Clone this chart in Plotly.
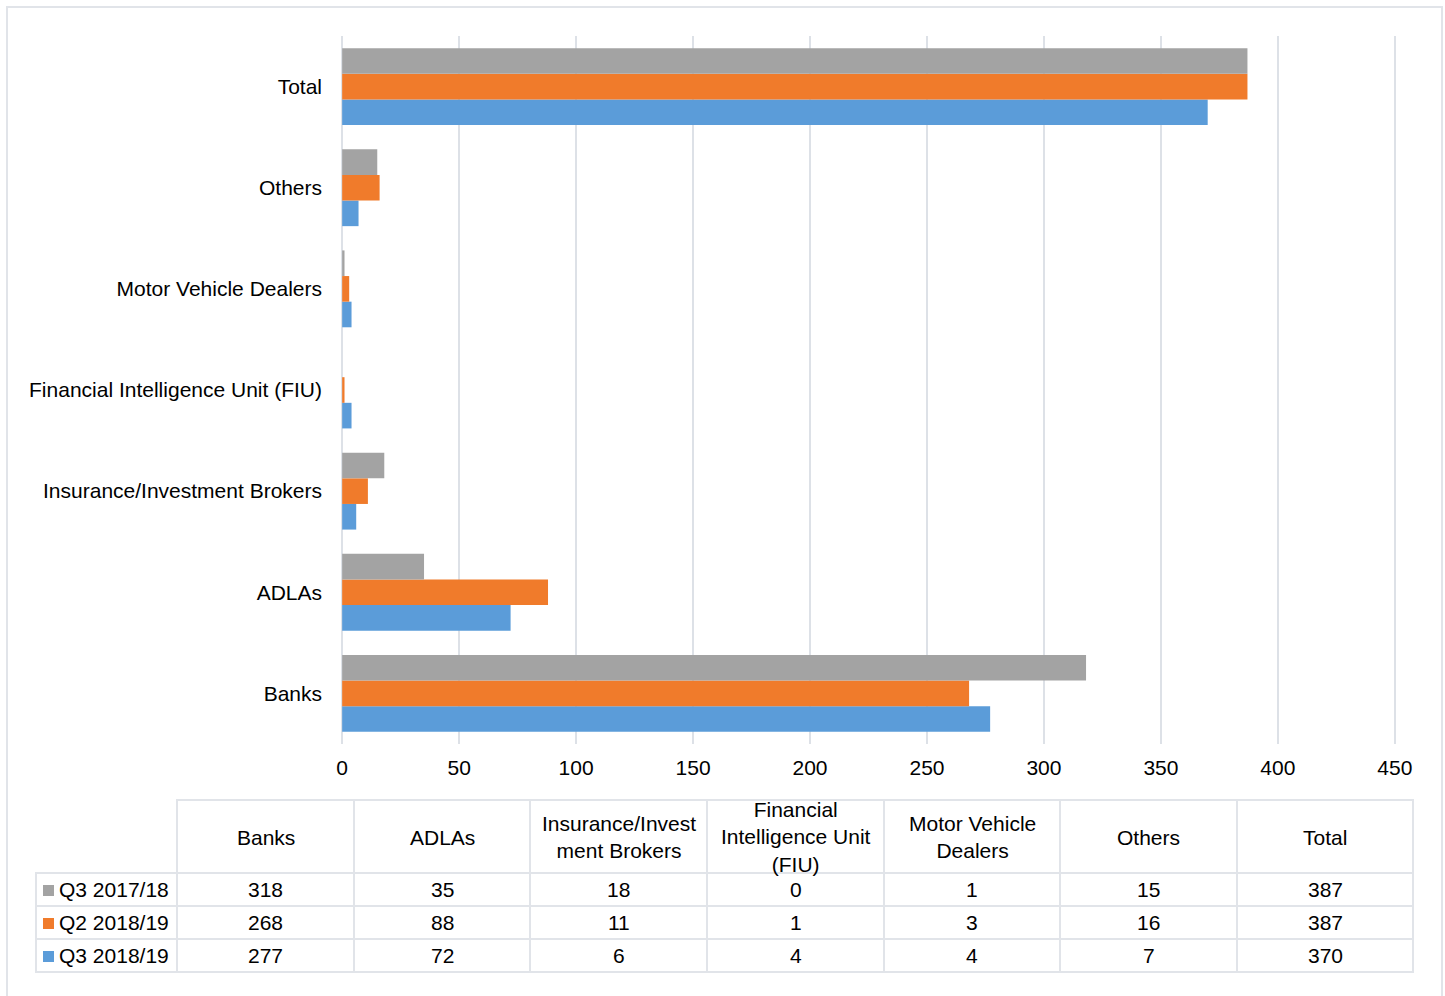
import plotly.graph_objects as go

categories = ["Banks", "ADLAs", "Insurance/Investment Brokers",
              "Financial Intelligence Unit (FIU)", "Motor Vehicle Dealers",
              "Others", "Total"]
header_labels = ["Banks", "ADLAs", "Insurance/Invest<br>ment Brokers",
                 "Financial<br>Intelligence Unit<br>(FIU)", "Motor Vehicle<br>Dealers",
                 "Others", "Total"]
series_names = ["Q3 2017/18", "Q2 2018/19", "Q3 2018/19"]
q3_2017_18 = [318, 35, 18, 0, 1, 15, 387]
q2_2018_19 = [268, 88, 11, 1, 3, 16, 387]
q3_2018_19 = [277, 72, 6, 4, 4, 7, 370]
x_ticks = [0, 50, 100, 150, 200, 250, 300, 350, 400, 450]

colors = {"Q3 2017/18": "#a3a3a3", "Q2 2018/19": "#f07b2b", "Q3 2018/19": "#5b9cd9"}
series_values = {"Q3 2017/18": q3_2017_18, "Q2 2018/19": q2_2018_19, "Q3 2018/19": q3_2018_19}

W, H = 1445, 996
L, R, T, B = 341, 1396, 36, 744
FONT = "Liberation Sans, Arial, sans-serif"
FS = 21

def xp(px):
    return (px - L) / (R - L)

def yp(py):
    return (B - py) / (B - T)

fig = go.Figure()
# plotly stacks grouped horizontal bars bottom-up in trace order
for name in ["Q3 2018/19", "Q2 2018/19", "Q3 2017/18"]:
    fig.add_trace(go.Bar(
        y=categories, x=series_values[name], orientation="h", name=name,
        marker=dict(color=colors[name], line=dict(width=0)),
    ))

shapes = []
annotations = []
line_col = "#e1e4e9"

# outer border
shapes.append(dict(type="rect", xref="paper", yref="paper",
                   x0=xp(7), x1=xp(1442), y0=yp(7), y1=yp(1002),
                   line=dict(color=line_col, width=2), fillcolor="rgba(0,0,0,0)", layer="below"))

# table geometry
col_edges = [177, 354, 530, 707, 884, 1060, 1237, 1413]
first_left = 36
header_top, header_bot = 800, 873
row_edges = [873, 906, 939, 972]

shapes.append(dict(type="rect", xref="paper", yref="paper",
                   x0=xp(col_edges[0]), x1=xp(col_edges[-1]), y0=yp(header_top), y1=yp(row_edges[-1]),
                   line=dict(color=line_col, width=2)))
shapes.append(dict(type="rect", xref="paper", yref="paper",
                   x0=xp(first_left), x1=xp(col_edges[0]), y0=yp(row_edges[0]), y1=yp(row_edges[-1]),
                   line=dict(color=line_col, width=2)))
for cx in col_edges[1:-1]:
    shapes.append(dict(type="line", xref="paper", yref="paper",
                       x0=xp(cx), x1=xp(cx), y0=yp(header_top), y1=yp(row_edges[-1]),
                       line=dict(color=line_col, width=2)))
for ry in row_edges[:-1]:
    shapes.append(dict(type="line", xref="paper", yref="paper",
                       x0=xp(first_left), x1=xp(col_edges[-1]), y0=yp(ry), y1=yp(ry),
                       line=dict(color=line_col, width=2)))

for i, lab in enumerate(header_labels):
    cx = (col_edges[i] + col_edges[i + 1]) / 2
    annotations.append(dict(xref="paper", yref="paper", x=xp(cx), y=yp((header_top + header_bot) / 2 + 1),
                            text=lab, showarrow=False, xanchor="center", yanchor="middle",
                            font=dict(family=FONT, size=FS, color="#000000")))

for r, name in enumerate(series_names):
    cy = (row_edges[r] + row_edges[r + 1]) / 2
    shapes.append(dict(type="rect", xref="paper", yref="paper",
                       x0=xp(43), x1=xp(54), y0=yp(cy - 4.5), y1=yp(cy + 6.5),
                       line=dict(width=0), fillcolor=colors[name]))
    annotations.append(dict(xref="paper", yref="paper", x=xp(57), y=yp(cy),
                            text=name, showarrow=False, xanchor="left", yanchor="middle",
                            font=dict(family=FONT, size=FS, color="#000000")))
    for i, v in enumerate(series_values[name]):
        cx = (col_edges[i] + col_edges[i + 1]) / 2
        annotations.append(dict(xref="paper", yref="paper", x=xp(cx), y=yp(cy),
                                text=str(v), showarrow=False, xanchor="center", yanchor="middle",
                                font=dict(family=FONT, size=FS, color="#000000")))

fig.update_layout(
    width=W, height=H,
    margin=dict(l=L, r=W - R, t=T, b=H - B, pad=0),
    paper_bgcolor="white", plot_bgcolor="white",
    barmode="group", bargap=0.24, bargroupgap=0,
    showlegend=False,
    font=dict(family=FONT, size=FS, color="#000000"),
    shapes=shapes, annotations=annotations,
    xaxis=dict(range=[-0.5, 450.5], tickvals=x_ticks, ticktext=[str(t) for t in x_ticks],
               showgrid=True, gridcolor="#dde1e7", gridwidth=2, zeroline=False,
               showline=False, ticks="", tickfont=dict(family=FONT, size=FS, color="#000000"),
               ticklabelstandoff=9, fixedrange=True),
    yaxis=dict(categoryorder="array", categoryarray=categories, showgrid=False,
               zeroline=False, showline=False, ticks="",
               tickfont=dict(family=FONT, size=FS, color="#000000"),
               ticklabelstandoff=18, fixedrange=True),
)

fig.write_html("out.html")
